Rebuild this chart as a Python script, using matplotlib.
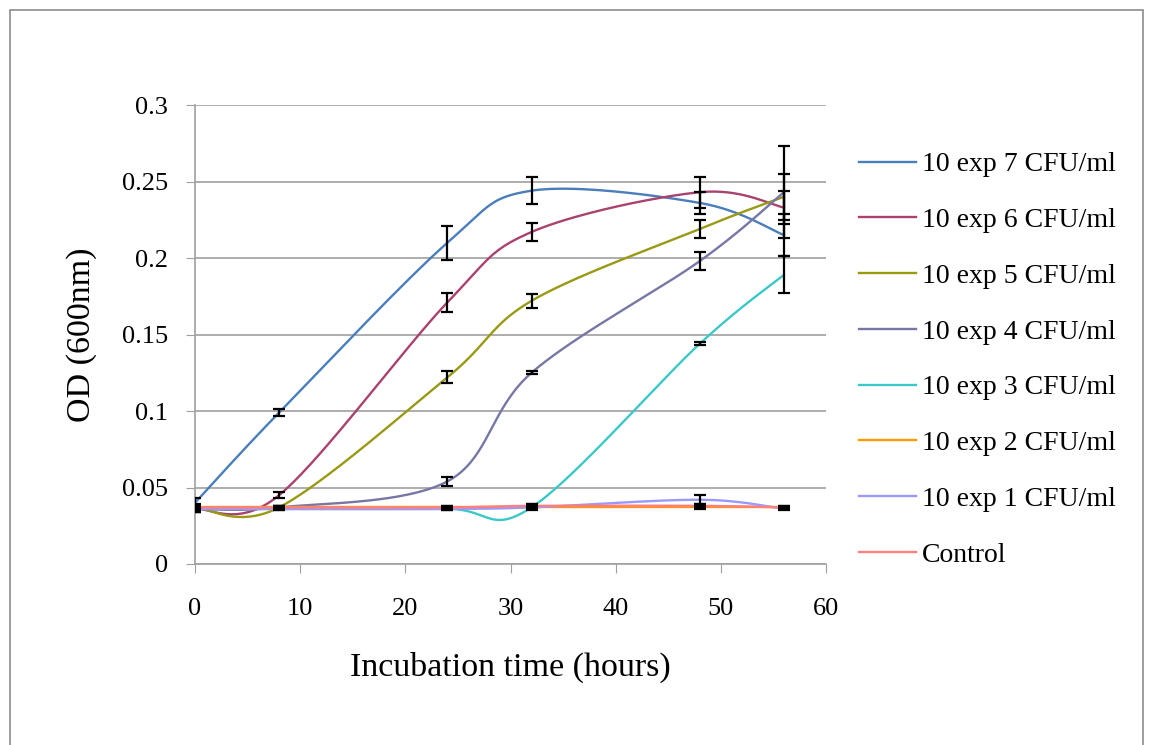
"""Growth curves (OD600) for serial inoculum dilutions, Excel-style smoothed lines."""
import numpy as np
import matplotlib
matplotlib.use("Agg")
import matplotlib.pyplot as plt
from matplotlib.patches import Rectangle

plt.rcParams["font.family"] = ["Liberation Serif", "DejaVu Serif"]

hours = [0, 8, 24, 32, 48, 56]

labels = ["10 exp 7 CFU/ml", "10 exp 6 CFU/ml", "10 exp 5 CFU/ml", "10 exp 4 CFU/ml",
          "10 exp 3 CFU/ml", "10 exp 2 CFU/ml", "10 exp 1 CFU/ml", "Control"]
colors = ["#4a7ebb", "#aa4270", "#999914", "#7777a6", "#3cc8c8", "#ff9900", "#9999ff", "#ff7f7f"]

od_e7 = [0.040, 0.099, 0.210, 0.244, 0.236, 0.215]
od_e6 = [0.036, 0.045, 0.171, 0.217, 0.243, 0.233]
od_e5 = [0.037, 0.037, 0.122, 0.172, 0.219, 0.240]
od_e4 = [0.036, 0.037, 0.054, 0.125, 0.198, 0.243]
od_e3 = [0.036, 0.036, 0.036, 0.037, 0.144, 0.189]
od_e2 = [0.037, 0.037, 0.037, 0.037, 0.037, 0.037]
od_e1 = [0.036, 0.036, 0.036, 0.037, 0.042, 0.036]
od_ctrl = [0.037, 0.037, 0.037, 0.038, 0.038, 0.037]

err_e7 = [0.003, 0.002, 0.011, 0.009, 0.007, 0.014]
err_e6 = [0.002, 0.002, 0.006, 0.006, 0.010, 0.011]
err_e5 = [0.002, 0.001, 0.004, 0.0045, 0.006, 0.015]
err_e4 = [0.002, 0.001, 0.003, 0.001, 0.006, 0.030]
err_e3 = [0.002, 0.001, 0.001, 0.002, 0.001, 0.012]
err_e2 = [0.001, 0.001, 0.001, 0.001, 0.001, 0.001]
err_e1 = [0.001, 0.001, 0.001, 0.001, 0.003, 0.001]
err_ctrl = [0.001, 0.001, 0.001, 0.001, 0.001, 0.001]

series = [od_e7, od_e6, od_e5, od_e4, od_e3, od_e2, od_e1, od_ctrl]
errors = [err_e7, err_e6, err_e5, err_e4, err_e3, err_e2, err_e1, err_ctrl]


def smooth(xs, ys, n=40):
    # Excel-like smoothing: cubic Bezier with Catmull-Rom control points
    p = np.column_stack([xs, ys]).astype(float)
    p = np.vstack([p[0], p, p[-1]])
    t = np.linspace(0, 1, n)[:, None]
    out = []
    for i in range(1, len(p) - 2):
        p0, p1, p2, p3 = p[i - 1], p[i], p[i + 1], p[i + 2]
        c1 = p1 + (p2 - p0) / 6
        c2 = p2 - (p3 - p1) / 6
        seg = ((1 - t) ** 3) * p1 + 3 * ((1 - t) ** 2) * t * c1 + 3 * (1 - t) * t ** 2 * c2 + t ** 3 * p2
        out.append(seg if i == 1 else seg[1:])
    seg = np.vstack(out)
    return seg[:, 0], seg[:, 1]


W, H = 1153, 745
fig = plt.figure(figsize=(W / 100, H / 100), dpi=100)
ax = fig.add_axes([195 / W, 1 - 564 / H, (826 - 195) / W, (564 - 105) / H])

handles = []
for ys, c, lab in zip(series, colors, labels):
    sx, sy = smooth(hours, ys)
    h, = ax.plot(sx, sy, color=c, lw=1.7, label=lab, zorder=3)
    handles.append(h)
for ys, es in zip(series, errors):
    ax.errorbar(hours, ys, yerr=es, fmt="none", ecolor="black", elinewidth=1.6,
                capsize=4.5, capthick=1.6, zorder=4)

ax.set_xlim(0, 60)
ax.set_ylim(0, 0.3)
ax.set_xticks(range(0, 61, 10))
ax.set_yticks(np.arange(0, 0.301, 0.05))
ax.set_yticklabels(["0", "0.05", "0.1", "0.15", "0.2", "0.25", "0.3"])
ax.yaxis.grid(True, color="#a0a0a0", lw=1.2)
ax.set_axisbelow(True)
for s in ["top", "right"]:
    ax.spines[s].set_visible(False)
for s in ["left", "bottom"]:
    ax.spines[s].set_color("#a0a0a0")
    ax.spines[s].set_linewidth(1.2)
ax.tick_params(direction="out", length=6.5, color="#a0a0a0", labelsize=19)
ax.tick_params(axis="x", pad=18)
ax.tick_params(axis="y", pad=13)
ax.set_xlabel("Incubation time (hours)", fontsize=24.5, labelpad=23)
ax.set_ylabel("OD (600nm)", fontsize=24.5, labelpad=18)

fig.legend(handles=handles, loc="upper left", bbox_to_anchor=(859 / W, 1 - 152 / H),
           frameon=False, fontsize=20, handlelength=2.05, handletextpad=0.22,
           labelspacing=1.09, borderpad=0, borderaxespad=0)

fig.patches.append(Rectangle((10 / W, -0.01), (1143 - 10) / W, 1 - 10 / H + 0.01,
                             transform=fig.transFigure, fill=False, ec="#8c8c8c", lw=1.2))

fig.savefig("out.png", dpi=100)
